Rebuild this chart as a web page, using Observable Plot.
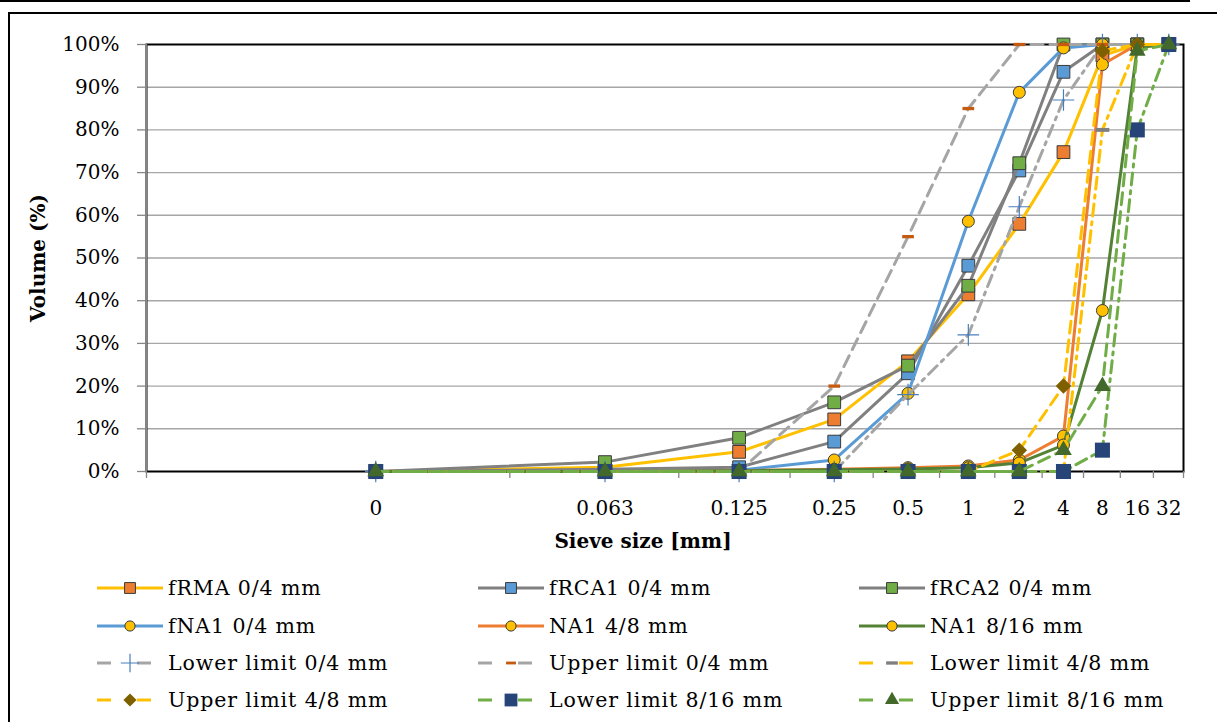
<!DOCTYPE html>
<html>
<head>
<meta charset="utf-8">
<script src="https://cdn.jsdelivr.net/npm/d3@7"></script>
<script src="https://cdn.jsdelivr.net/npm/@observablehq/plot@0.6"></script>
<style>
html, body { margin: 0; padding: 0; width: 1217px; height: 722px; overflow: hidden; background: #fff; }
#toprule { position: absolute; left: 0; top: 0; width: 1190px; height: 2px; background: #000; }
#box { position: absolute; left: 8px; top: 12px; width: 1240px; height: 800px; border: 2px solid #000; }
#chart { position: absolute; left: 0; top: 0; }
.item { position: absolute; display: flex; align-items: center; height: 30px;
        font-family: "DejaVu Serif", serif; font-size: 20.5px; letter-spacing: 0.9px; color: #000; white-space: nowrap; }
.item svg { display: block; margin-right: 5px; }
</style>
</head>
<body>
<div id="toprule"></div>
<div id="box"></div>
<div id="chart"></div>
<div id="legend"></div>
<script>
// ---------- data ----------
const sieveLabels = ["0", "0.063", "0.125", "0.25", "0.5", "1", "2", "4", "8", "16", "32"];
const yTicks = [0, 10, 20, 30, 40, 50, 60, 70, 80, 90, 100];

const fRMA     = [0, 1.0, 4.6, 12.2, 25.8, 41.5, 58.0, 74.8, 97.4, 100, 100];
const fRCA1    = [0, 0.5, 1.0, 7.0, 23.0, 48.2, 70.5, 93.6, 100, 100, 100];
const fRCA2    = [0, 2.2, 7.9, 16.2, 24.8, 43.5, 72.2, 100, 100, 100, 100];
const fNA1     = [0, 0.0, 0.3, 2.7, 18.3, 58.6, 88.8, 99.2, 100, 100, 100];
const NA1_4_8  = [0, 0.0, 0.2, 0.5, 0.9, 1.3, 2.7, 8.3, 95.3, 100, 100];
const NA1_8_16 = [0, 0.0, 0.2, 0.4, 0.6, 0.9, 2.0, 6.2, 37.7, 99.3, 100];
const lower04  = [0, 0, 0, 0, 18, 32, 62, 87, 100, 100, 100];
const upper04  = [0, 0, 0, 20, 55, 85, 100, 100, 100, 100, 100];
const lower48  = [0, 0, 0, 0, 0, 0, 0, 0, 80, 100, 100];
const upper48  = [0, 0, 0, 0, 0, 0, 5, 20, 98.5, 100, 100];
const lower816 = [0, 0, 0, 0, 0, 0, 0, 0, 5, 80, 100];
const upper816 = [0, 0, 0, 0, 0, 0, 0, 5, 20, 98.5, 100];

// ---------- styling ----------
const dashSym = {
  draw(ctx, size) {
    const s = Math.sqrt(size), w = 0.6 * s, h = 0.17 * s;
    ctx.moveTo(-w, -h); ctx.lineTo(w, -h); ctx.lineTo(w, h); ctx.lineTo(-w, h); ctx.closePath();
  }
};
const DASH = "12,7", DASHDOT = "12,6,3,6";
const OUT = "#3a3a3a";
const series = [
  {name: "fRMA 0/4 mm",          values: fRMA,     stroke: "#FFC000", symbol: "square",  fill: "#ED7D31", mstroke: OUT, r: 7.2},
  {name: "fRCA1 0/4 mm",         values: fRCA1,    stroke: "#808080", symbol: "square",  fill: "#5B9BD5", mstroke: OUT, r: 7.2},
  {name: "fRCA2 0/4 mm",         values: fRCA2,    stroke: "#808080", symbol: "square",  fill: "#70AD47", mstroke: OUT, r: 7.2},
  {name: "fNA1 0/4 mm",          values: fNA1,     stroke: "#5B9BD5", symbol: "circle",  fill: "#FFC000", mstroke: OUT, r: 6},
  {name: "NA1 4/8 mm",           values: NA1_4_8,  stroke: "#ED7D31", symbol: "circle",  fill: "#FFC000", mstroke: OUT, r: 6},
  {name: "NA1 8/16 mm",          values: NA1_8_16, stroke: "#548235", symbol: "circle",  fill: "#FFC000", mstroke: OUT, r: 6},
  {name: "Lower limit 0/4 mm",   values: lower04,  stroke: "#A5A5A5", dash: DASHDOT, symbol: "plus", fill: "none", mstroke: "#4A7EBB", r: 7, sw: 1.2},
  {name: "Upper limit 0/4 mm",   values: upper04,  stroke: "#A5A5A5", dash: DASH,    symbol: dashSym, fill: "#C55A11", mstroke: "none", r: 5.5},
  {name: "Lower limit 4/8 mm",   values: lower48,  stroke: "#FFC000", dash: DASHDOT, symbol: dashSym, fill: "#7F7F7F", mstroke: "none", r: 6.5},
  {name: "Upper limit 4/8 mm",   values: upper48,  stroke: "#FFC000", dash: DASH,    symbol: "diamond2", fill: "#7F6000", mstroke: "none", r: 7},
  {name: "Lower limit 8/16 mm",  values: lower816, stroke: "#70AD47", dash: DASHDOT, symbol: "square", fill: "#264478", mstroke: "none", r: 8.5},
  {name: "Upper limit 8/16 mm",  values: upper816, stroke: "#70AD47", dash: DASH,    symbol: "triangle", fill: "#43682B", mstroke: "none", r: 6.2}
];

// position of each sieve on the (log) category axis: 1, 2, ... 11
const pos = sieveLabels.map((_, i) => i + 1);
const bounds = [0.5, ...pos.map(p => p + 0.5)];

const marks = [
  Plot.gridY(yTicks.slice(1, -1), {stroke: "#A6A6A6", strokeOpacity: 1, strokeWidth: 1.4}),
  Plot.frame({stroke: "#000", strokeWidth: 2}),
  Plot.ruleX([0.5], {stroke: "#868686", strokeWidth: 1.5}),
  Plot.axisY({ticks: yTicks, tickFormat: d => d + "%", tickSize: 9, tickPadding: 18,
              stroke: "#868686", strokeWidth: 1.3, fontSize: 20, label: null}),
  Plot.axisX({ticks: bounds, tickFormat: () => "", tickSize: 7, stroke: "#868686",
              strokeWidth: 1.3, label: null}),
  Plot.text(pos, {x: d => d, frameAnchor: "bottom", lineAnchor: "middle", dy: 37,
              text: (d, i) => sieveLabels[i], fontSize: 20}),
  Plot.text(["Volume (%)"], {frameAnchor: "left", dx: -108, rotate: -90, text: d => d,
              textAnchor: "middle", lineAnchor: "middle", fontWeight: "bold", fontSize: 20}),
  Plot.text(["Sieve size [mm]"], {frameAnchor: "bottom", dx: -22, dy: 70, text: d => d,
              lineAnchor: "middle", fontWeight: "bold", fontSize: 20})
];

for (const s of series) {
  const rows = s.values.map((v, i) => ({t: pos[i], v})).filter(d => d.v != null);
  marks.push(Plot.line(rows, {x: "t", y: "v", stroke: s.stroke, strokeWidth: 3,
    strokeDasharray: s.dash, strokeLinejoin: "round"}));
  marks.push(Plot.dot(rows, {x: "t", y: "v", symbol: s.symbol, r: s.r, fill: s.fill,
    stroke: s.mstroke, strokeWidth: s.sw || 1}));
}

const chart = Plot.plot({
  width: 1217, height: 560,
  marginLeft: 146, marginRight: 34, marginTop: 44, marginBottom: 89,
  style: {fontFamily: "'DejaVu Serif', serif", fontSize: "20px", background: "none", color: "#000"},
  x: {type: "log", domain: [0.5, 11.5]},
  y: {domain: [0, 100]},
  marks
});
document.getElementById("chart").append(chart);

// ---------- legend ----------
const legend = document.getElementById("legend");
const colX = [97, 478, 859], rowY = [588, 626, 663, 700];
const types = {square: d3.symbolSquare, circle: d3.symbolCircle, plus: d3.symbolPlus,
               diamond2: d3.symbolDiamond2, triangle: d3.symbolTriangle};
series.forEach((s, k) => {
  const col = k % 3, row = Math.floor(k / 3);
  const div = document.createElement("div");
  div.className = "item";
  div.style.left = colX[col] + "px";
  div.style.top = (rowY[row] - 15) + "px";
  const svg = d3.create("svg").attr("width", 66).attr("height", 30);
  svg.append("line").attr("x1", 0).attr("x2", 66).attr("y1", 15).attr("y2", 15)
    .attr("stroke", s.stroke).attr("stroke-width", 3)
    .attr("stroke-dasharray", s.dash ? "14,26" : null);
  const type = typeof s.symbol === "string" ? types[s.symbol] : s.symbol;
  const rr = s.r * 0.85;
  svg.append("path").attr("transform", "translate(33,15)")
    .attr("d", d3.symbol(type, rr * rr * Math.PI)())
    .attr("fill", s.fill).attr("stroke", s.mstroke).attr("stroke-width", s.sw || 1);
  div.append(svg.node());
  const span = document.createElement("span");
  span.textContent = s.name;
  div.append(span);
  legend.append(div);
});
</script>
</body>
</html>
